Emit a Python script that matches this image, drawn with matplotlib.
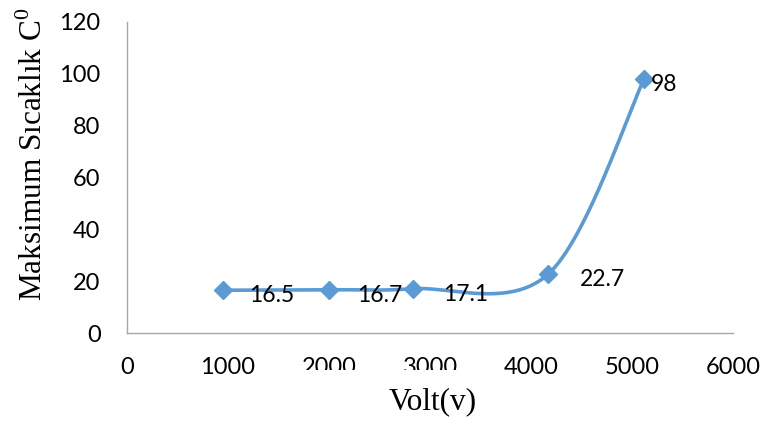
import numpy as np
import matplotlib
matplotlib.use("Agg")
import matplotlib.pyplot as plt
from matplotlib.patches import Rectangle

# Measured maximum temperature against applied voltage
volts = [950, 2000, 2830, 4170, 5120]
temps = [16.5, 16.7, 17.1, 22.7, 98]
value_labels = ["16.5", "16.7", "17.1", "22.7", "98"]

x_ticks = [0, 1000, 2000, 3000, 4000, 5000, 6000]
y_ticks = [0, 20, 40, 60, 80, 100, 120]

LINE_COLOR = "#5B9BD5"
TICK_FONT = "Lato"
SERIF = "Liberation Serif"

plt.rcParams["mathtext.fontset"] = "custom"
plt.rcParams["mathtext.rm"] = SERIF


def smooth_curve(xs, ys, n=60):
    """Spreadsheet-style smoothed line: cubic Bezier segments with
    Catmull-Rom control points."""
    pts = np.column_stack([xs, ys]).astype(float)
    out = []
    for i in range(len(pts) - 1):
        p0 = pts[i - 1] if i > 0 else pts[i]
        p1 = pts[i]
        p2 = pts[i + 1]
        p3 = pts[i + 2] if i + 2 < len(pts) else pts[i + 1]
        c1 = p1 + (p2 - p0) / 6.0
        c2 = p2 - (p3 - p1) / 6.0
        t = np.linspace(0, 1, n)[:, None]
        seg = ((1 - t) ** 3) * p1 + 3 * ((1 - t) ** 2) * t * c1 \
            + 3 * (1 - t) * t ** 2 * c2 + t ** 3 * p2
        out.append(seg if i == 0 else seg[1:])
    curve = np.vstack(out)
    return curve[:, 0], curve[:, 1]


fig = plt.figure(figsize=(7.63, 4.23), dpi=100)
W, H = fig.get_size_inches() * fig.dpi
ax = fig.add_axes([127 / W, 1 - 333 / H, 606 / W, 311 / H])

cx, cy = smooth_curve(volts, temps)
ax.plot(cx, cy, color=LINE_COLOR, linewidth=2.6, solid_capstyle="round", zorder=2)
ax.plot(volts, temps, linestyle="none", marker="D", markersize=9.5,
        color=LINE_COLOR, zorder=3)

# Value labels placed to the right of each point
label_dx = [19, 20, 22, 23, 5]
for x, y, txt, dx in zip(volts, temps, value_labels, label_dx):
    ax.annotate(txt, (x, y), xytext=(dx, -4), textcoords="offset points",
                ha="left", va="center", fontsize=16.5, family=TICK_FONT,
                color="black", zorder=4, annotation_clip=False)

ax.set_xlim(x_ticks[0], x_ticks[-1])
ax.set_ylim(y_ticks[0], y_ticks[-1])
ax.set_xticks(x_ticks)
ax.set_yticks(y_ticks)
ax.tick_params(axis="both", length=0, labelsize=17)
ax.tick_params(axis="x", pad=17.5)
ax.tick_params(axis="y", pad=19)
for lbl in ax.get_xticklabels() + ax.get_yticklabels():
    lbl.set_family(TICK_FONT)

for side in ("top", "right"):
    ax.spines[side].set_visible(False)
for side in ("left", "bottom"):
    ax.spines[side].set_color("#A6A6A6")
    ax.spines[side].set_linewidth(1.0)

# Axis titles
fig.text(34 / W, 1 - 154 / H, r"Maksimum Sıcaklık C$^{\mathregular{0}}$",
         family=SERIF, fontsize=22.5, rotation=90, ha="center", va="center")
fig.text(433 / W, 1 - 402 / H, "Volt(v)", family=SERIF, fontsize=22.5,
         ha="center", va="center")

# Part of the middle tick labels sits under a blank text box
for (px, py, pw, ph) in [(295, 370, 180, 12), (500, 350, 10, 10)]:
    fig.patches.append(Rectangle((px / W, 1 - (py + ph) / H), pw / W, ph / H,
                                 transform=fig.transFigure, facecolor="white",
                                 edgecolor="none", zorder=10))

fig.savefig("out.png", dpi=100)
